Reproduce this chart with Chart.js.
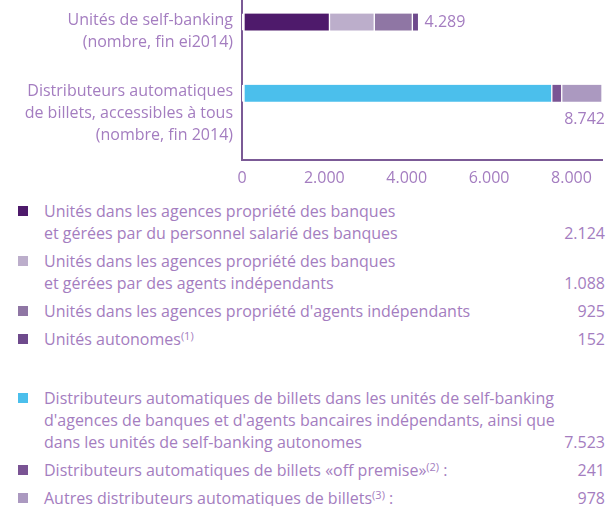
<!DOCTYPE html>
<html>
<head>
<meta charset="utf-8">
<script src="https://cdn.jsdelivr.net/npm/chart.js@4.4.1/dist/chart.umd.min.js"></script>
<style>
  html, body { margin: 0; padding: 0; background: #fff; }
  body { width: 616px; height: 506px; position: relative; overflow: hidden; font-family: "Open Sans", sans-serif; color: #a47dc0; }
  #wrap { position: absolute; left: 0; top: 0; width: 616px; height: 189px; }
  #legend { position: absolute; left: 0; top: 200px; width: 616px; font-size: 16px; line-height: 22px; }
  .item { position: relative; margin-bottom: 6px; padding-left: 44px; padding-right: 11px; white-space: nowrap; }
  .item.gap { margin-top: 37px; }
  .sq { position: absolute; left: 18px; top: 6px; width: 10px; height: 10px; }
  .txt { display: block; }
  .val { position: absolute; right: 11px; bottom: 0; }
  sup { font-size: 11px; line-height: 0; vertical-align: 5px; }
</style>
</head>
<body>
<div id="wrap"><canvas id="chart"></canvas></div>
<div id="legend"></div>
<script>
// categories (y axis)
const categories = [
  ['Unités de self-banking', '(nombre, fin ei2014)'],
  ['Distributeurs automatiques', 'de billets, accessibles à tous', '(nombre, fin 2014)']
];
const totals = [4289, 8742];
const xTicks = [0, 2000, 4000, 6000, 8000];

// self-banking units
const unitLabels = [
  'Unités dans les agences propriété des banques<br>et gérées par du personnel salarié des banques',
  'Unités dans les agences propriété des banques<br>et gérées par des agents indépendants',
  'Unités dans les agences propriété d\'agents indépendants',
  'Unités autonomes<sup>(1)</sup>'
];
const unitValues = [2124, 1088, 925, 152];
const unitColors = ['#4e1a6b', '#bcaecb', '#8f76a4', '#6e4a8c'];

// ATMs
const atmLabels = [
  'Distributeurs automatiques de billets dans les unités de self-banking<br>d\'agences de banques et d\'agents bancaires indépendants, ainsi que<br>dans les unités de self-banking autonomes',
  'Distributeurs automatiques de billets «off premise»<sup>(2)</sup> :',
  'Autres distributeurs automatiques de billets<sup>(3)</sup> :'
];
const atmValues = [7523, 241, 978];
const atmColors = ['#4bbfec', '#7a5494', '#ab99c0'];

const textColor = '#a47dc0';
const axisColor = '#7b5a96';
const fontFamily = '"Open Sans"';
const fmt = v => v.toLocaleString('de-DE');

const datasets = [];
unitValues.forEach((v, i) => datasets.push({
  data: [{ x: v, y: 0 }],
  backgroundColor: unitColors[i],
  borderColor: '#fff',
  borderWidth: { left: i === 0 ? 3 : 1, right: 1, top: 0, bottom: 0 },
  borderSkipped: false,
  barThickness: 17
}));
atmValues.forEach((v, i) => datasets.push({
  data: [{ x: v, y: 1 }],
  backgroundColor: atmColors[i],
  borderColor: '#fff',
  borderWidth: { left: i === 0 ? 3 : 1, right: 1, top: 0, bottom: 0 },
  borderSkipped: false,
  barThickness: 17
}));

const labelsPlugin = {
  id: 'labels',
  afterDraw(chart) {
    const ctx = chart.ctx;
    const x = chart.scales.x, y = chart.scales.y;
    ctx.save();
    ctx.font = '16px ' + fontFamily;
    ctx.fillStyle = textColor;
    ctx.textBaseline = 'middle';
    // category labels, top aligned with bars
    ctx.textAlign = 'right';
    categories.forEach((lines, i) => {
      const py = y.getPixelForValue(i);
      lines.forEach((t, j) => ctx.fillText(t, 233, py - 2 + j * 22));
    });
    // totals
    ctx.textAlign = 'left';
    ctx.fillText(fmt(totals[0]), x.getPixelForValue(totals[0]) + 6, y.getPixelForValue(0));
    ctx.textAlign = 'right';
    ctx.fillText(fmt(totals[1]), x.getPixelForValue(totals[1]) + 3, y.getPixelForValue(1) + 26);
    ctx.restore();
  }
};

new Chart(document.getElementById('chart'), {
  type: 'bar',
  data: { datasets },
  options: {
    indexAxis: 'y',
    responsive: true,
    maintainAspectRatio: false,
    animation: false,
    layout: { padding: { left: 0, right: 14, top: 0, bottom: 0 } },
    plugins: { legend: { display: false }, tooltip: { enabled: false } },
    scales: {
      x: {
        type: 'linear',
        stacked: true,
        min: 0,
        max: totals[1],
        afterBuildTicks: s => { s.ticks = xTicks.map(v => ({ value: v })); },
        grid: { display: false },
        border: { display: true, color: axisColor, width: 2 },
        ticks: {
          color: textColor,
          font: { family: fontFamily, size: 16 },
          padding: 1,
          maxRotation: 0,
          callback: v => fmt(v)
        }
      },
      y: {
        type: 'linear',
        stacked: true,
        reverse: true,
        offset: false,
        min: -0.31,
        max: 1.933,
        afterFit: s => { s.width = 242; },
        grid: { display: false, offset: false },
        border: { display: true, color: axisColor, width: 2 },
        ticks: { display: false }
      }
    }
  },
  plugins: [labelsPlugin]
});

// legend
const legend = document.getElementById('legend');
function addItem(label, value, color, gap) {
  const d = document.createElement('div');
  d.className = 'item' + (gap ? ' gap' : '');
  d.innerHTML = '<span class="sq" style="background:' + color + '"></span>' +
    '<span class="txt">' + label + '</span><span class="val">' + fmt(value) + '</span>';
  legend.appendChild(d);
}
unitLabels.forEach((l, i) => addItem(l, unitValues[i], unitColors[i], false));
atmLabels.forEach((l, i) => addItem(l, atmValues[i], atmColors[i], i === 0));
</script>
</body>
</html>
